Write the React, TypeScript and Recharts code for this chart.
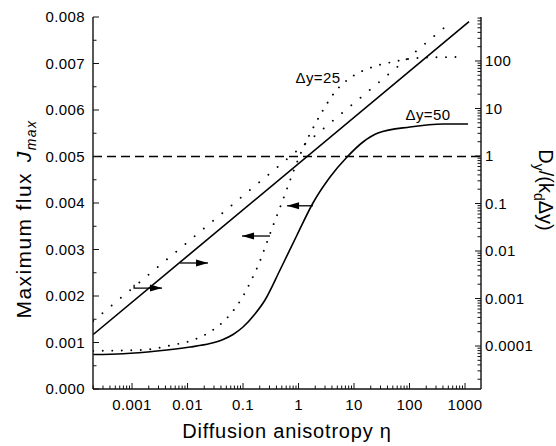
import React from 'react';
import { ComposedChart, Line, XAxis, YAxis, ReferenceLine, ReferenceDot } from 'recharts';

const FONT = '"Liberation Sans", Arial, Helvetica, sans-serif';

// x axis: diffusion anisotropy (log)
const etaDomain = [1.98e-4, 1940];
const etaMajor = [0.001, 0.01, 0.1, 1, 10, 100, 1000];

// left axis: maximum flux
const jDomain = [0, 0.008];
const jTicks = [0, 0.0005, 0.001, 0.0015, 0.002, 0.0025, 0.003, 0.0035, 0.004, 0.0045, 0.005, 0.0055, 0.006, 0.0065, 0.007, 0.0075, 0.008];

// right axis: D_y/(k_d dy) (log)
const dDomain = [1.245e-5, 843];
const dMajor = [0.0001, 0.001, 0.01, 0.1, 1, 10, 100];

// J_max, dy = 50 (solid)
const eta50 = [0.0002, 0.00069, 0.00282, 0.0111, 0.0254, 0.0437, 0.0661, 0.1, 0.164, 0.249, 0.464, 0.94, 1.82, 3.7, 7.49, 14.5, 27, 102, 402, 1130];
const jmax50 = [0.000742, 0.000759, 0.000817, 0.000903, 0.000978, 0.001065, 0.001172, 0.001333, 0.001613, 0.001914, 0.002559, 0.003312, 0.004, 0.004559, 0.004989, 0.005312, 0.005505, 0.005634, 0.005699, 0.005699];

// J_max, dy = 25 (dotted)
const eta25 = [0.0002, 0.00158, 0.0055, 0.011, 0.0254, 0.0537, 0.096, 0.145, 0.202, 0.27, 0.362, 0.484, 0.647, 0.865, 1.205, 1.75, 2.65, 4.55, 9.6, 21, 48, 148, 720];
const jmax25 = [0.00082, 0.00084, 0.00095, 0.00103, 0.00123, 0.00155, 0.00196, 0.00237, 0.00275, 0.00316, 0.00357, 0.00396, 0.00437, 0.00477, 0.00518, 0.00557, 0.00596, 0.00639, 0.00673, 0.00692, 0.00703, 0.00712, 0.00714];

// D_y/(k_d dy), straight lines on log-log
const etaRatio50 = [0.0002, 1180];
const ratio50 = [1.75e-4, 670];
const etaRatio25 = [0.0002, 417];
const ratio25 = [3.37e-4, 495];

const jThreshold = 0.005;

// arrows pointing to the axis each curve belongs to
const arrowFrom = [0.00109, 0.00733, 0.306, 1.82];
const arrowTo = [0.00347, 0.0234, 0.096, 0.621];
const arrowJ = [0.00217, 0.00271, 0.00329, 0.00394];

const zip = (xs: number[], ys: number[]) => xs.map((x, i) => ({ x, y: ys[i] }));

const logTicks = (lo: number, hi: number) => {
  const out: number[] = [];
  for (let d = Math.floor(Math.log10(lo)); d <= Math.ceil(Math.log10(hi)); d++) {
    for (let m = 1; m <= 9; m++) {
      const v = parseFloat(`${m}e${d}`);
      if (v >= lo && v <= hi) out.push(v);
    }
  }
  return out;
};

const etaTicks = logTicks(etaDomain[0], etaDomain[1]);
const dTicks = logTicks(dDomain[0], dDomain[1]);

const AXIS = '#111';
const labelStyle = { fontSize: 15, fontFamily: FONT, fill: '#000', letterSpacing: 0.4 };

const BottomTick = ({ x, y, payload }: any) => {
  const major = etaMajor.includes(payload.value);
  return (
    <g>
      <line x1={x} x2={x} y1={y} y2={y - (major ? 6 : 3.5)} stroke={AXIS} />
      {major && (
        <text x={x} y={y + 21} textAnchor="middle" style={labelStyle}>
          {String(payload.value)}
        </text>
      )}
    </g>
  );
};

const TopTick = ({ x, y, payload }: any) => {
  const major = etaMajor.includes(payload.value);
  return <line x1={x} x2={x} y1={y} y2={y + (major ? 6 : 3.5)} stroke={AXIS} />;
};

const LeftTick = ({ x, y, payload }: any) => {
  const v = payload.value;
  const major = Math.abs(v * 1000 - Math.round(v * 1000)) < 1e-6;
  return (
    <g>
      <line x1={x} x2={x + (major ? 6 : 3.5)} y1={y} y2={y} stroke={AXIS} />
      {major && (
        <text x={x - 8} y={y} dy="0.36em" textAnchor="end" style={labelStyle}>
          {v.toFixed(3)}
        </text>
      )}
    </g>
  );
};

const RightTick = ({ x, y, payload }: any) => {
  const major = dMajor.includes(payload.value);
  return (
    <g>
      <line x1={x} x2={x - (major ? 6 : 3.5)} y1={y} y2={y} stroke={AXIS} />
      {major && (
        <text x={x + 4} y={y} dy="0.36em" textAnchor="start" style={labelStyle}>
          {String(payload.value)}
        </text>
      )}
    </g>
  );
};

const titleStyle = { fontSize: 20, fontFamily: FONT, fill: '#000', letterSpacing: 0.8 };

const LeftTitle = ({ viewBox }: any) => {
  const x = viewBox.x + 31;
  const y = viewBox.y + viewBox.height / 2 + 16;
  return (
    <text
      x={x}
      y={y}
      textAnchor="middle"
      transform={`rotate(-90, ${x}, ${y})`}
      style={{ ...titleStyle, fontSize: 21, letterSpacing: 1.4 }}
    >
      Maximum flux
      <tspan dx={10} fontStyle="italic">J</tspan>
      <tspan fontStyle="italic" fontSize={14} dy={5}>max</tspan>
    </text>
  );
};

const RightTitle = ({ viewBox }: any) => {
  const x = viewBox.x + 58;
  const y = viewBox.y + viewBox.height / 2 - 13;
  return (
    <text
      x={x}
      y={y}
      textAnchor="middle"
      transform={`rotate(90, ${x}, ${y})`}
      style={{ ...titleStyle, letterSpacing: 0 }}
    >
      D<tspan fontSize={14} dy={5}>y</tspan>
      <tspan dy={-5}>/(k</tspan>
      <tspan fontSize={14} dy={5}>d</tspan>
      <tspan dy={-5}>Δy)</tspan>
    </text>
  );
};

const BottomTitle = ({ viewBox }: any) => {
  const x = viewBox.x + viewBox.width / 2;
  const y = viewBox.y + 49;
  return (
    <text x={x} y={y} textAnchor="middle" style={titleStyle}>
      Diffusion anisotropy η
    </text>
  );
};

const arrowHead = (last: number, dir: number) => (p: any) => {
  if (p.index !== last) return <g key={`d-${p.index}`} />;
  const { cx, cy } = p;
  return (
    <polygon
      key={`d-${p.index}`}
      points={`${cx},${cy} ${cx - dir * 12},${cy - 3.5} ${cx - dir * 12},${cy + 3.5}`}
      fill="#000"
    />
  );
};

const arrows = arrowFrom.map((from, i) => {
  const rows = [{ x: from, y: arrowJ[i] }, { x: arrowTo[i], y: arrowJ[i] }];
  if (i === 0) rows.unshift({ x: from, y: arrowJ[i] + 0.00007 });
  return { rows, dir: arrowTo[i] > from ? 1 : -1 };
});

const App = () => {
  return (
    <div style={{ position: 'absolute', left: 0, top: 0, background: '#fff' }}>
      <ComposedChart width={556} height={446} margin={{ top: 17, right: 0, bottom: 0, left: 0 }}>
        <XAxis
          xAxisId="b"
          dataKey="x"
          type="number"
          scale="log"
          domain={etaDomain}
          allowDataOverflow
          ticks={etaTicks}
          interval={0}
          height={57}
          tickSize={0}
          tickMargin={0}
          tickLine={false}
          tick={<BottomTick />}
          axisLine={{ stroke: AXIS, strokeWidth: 1.4 }}
          label={{ content: BottomTitle }}
        />
        <XAxis
          xAxisId="t"
          orientation="top"
          dataKey="x"
          type="number"
          scale="log"
          domain={etaDomain}
          allowDataOverflow
          ticks={etaTicks}
          interval={0}
          height={0}
          tickSize={0}
          tickMargin={0}
          tickLine={false}
          tick={<TopTick />}
          axisLine={{ stroke: AXIS, strokeWidth: 1.4 }}
        />
        <YAxis
          yAxisId="left"
          type="number"
          domain={jDomain}
          ticks={jTicks}
          interval={0}
          width={93}
          tickSize={0}
          tickMargin={0}
          tickLine={false}
          tick={<LeftTick />}
          axisLine={{ stroke: AXIS, strokeWidth: 1.4 }}
          label={{ content: LeftTitle }}
        />
        <YAxis
          yAxisId="right"
          orientation="right"
          type="number"
          scale="log"
          domain={dDomain}
          allowDataOverflow
          ticks={dTicks}
          interval={0}
          width={75}
          tickSize={0}
          tickMargin={0}
          tickLine={false}
          tick={<RightTick />}
          axisLine={{ stroke: AXIS, strokeWidth: 1.4 }}
          label={{ content: RightTitle }}
        />

        <ReferenceLine
          xAxisId="b"
          yAxisId="left"
          y={jThreshold}
          stroke="#000"
          strokeWidth={1.4}
          strokeDasharray="9 5"
        />

        <Line
          xAxisId="b"
          yAxisId="left"
          data={zip(eta50, jmax50)}
          dataKey="y"
          type="monotone"
          stroke="#000"
          strokeWidth={1.6}
          dot={false}
          activeDot={false}
          isAnimationActive={false}
        />
        <Line
          xAxisId="b"
          yAxisId="left"
          data={zip(eta25, jmax25)}
          dataKey="y"
          type="monotone"
          stroke="#000"
          strokeWidth={1.9}
          strokeDasharray="0.01 9.5"
          strokeLinecap="round"
          dot={false}
          activeDot={false}
          isAnimationActive={false}
        />
        <Line
          xAxisId="b"
          yAxisId="right"
          data={zip(etaRatio50, ratio50)}
          dataKey="y"
          type="linear"
          stroke="#000"
          strokeWidth={1.6}
          dot={false}
          activeDot={false}
          isAnimationActive={false}
        />
        <Line
          xAxisId="b"
          yAxisId="right"
          data={zip(etaRatio25, ratio25)}
          dataKey="y"
          type="linear"
          stroke="#000"
          strokeWidth={1.9}
          strokeDasharray="0.01 12"
          strokeLinecap="round"
          dot={false}
          activeDot={false}
          isAnimationActive={false}
        />

        {arrows.map((a, i) => (
          <Line
            key={`arrow-${i}`}
            xAxisId="b"
            yAxisId="left"
            data={a.rows}
            dataKey="y"
            type="linear"
            stroke="#000"
            strokeWidth={1.3}
            dot={arrowHead(a.rows.length - 1, a.dir)}
            activeDot={false}
            isAnimationActive={false}
          />
        ))}

        <ReferenceDot
          xAxisId="b"
          yAxisId="left"
          x={2.24}
          y={0.00669}
          r={0}
          fill="none"
          stroke="none"
          label={{ value: 'Δy=25', position: 'center', ...labelStyle }}
        />
        <ReferenceDot
          xAxisId="b"
          yAxisId="left"
          x={215}
          y={0.00589}
          r={0}
          fill="none"
          stroke="none"
          label={{ value: 'Δy=50', position: 'center', ...labelStyle }}
        />
      </ComposedChart>
    </div>
  );
};

export default App;
